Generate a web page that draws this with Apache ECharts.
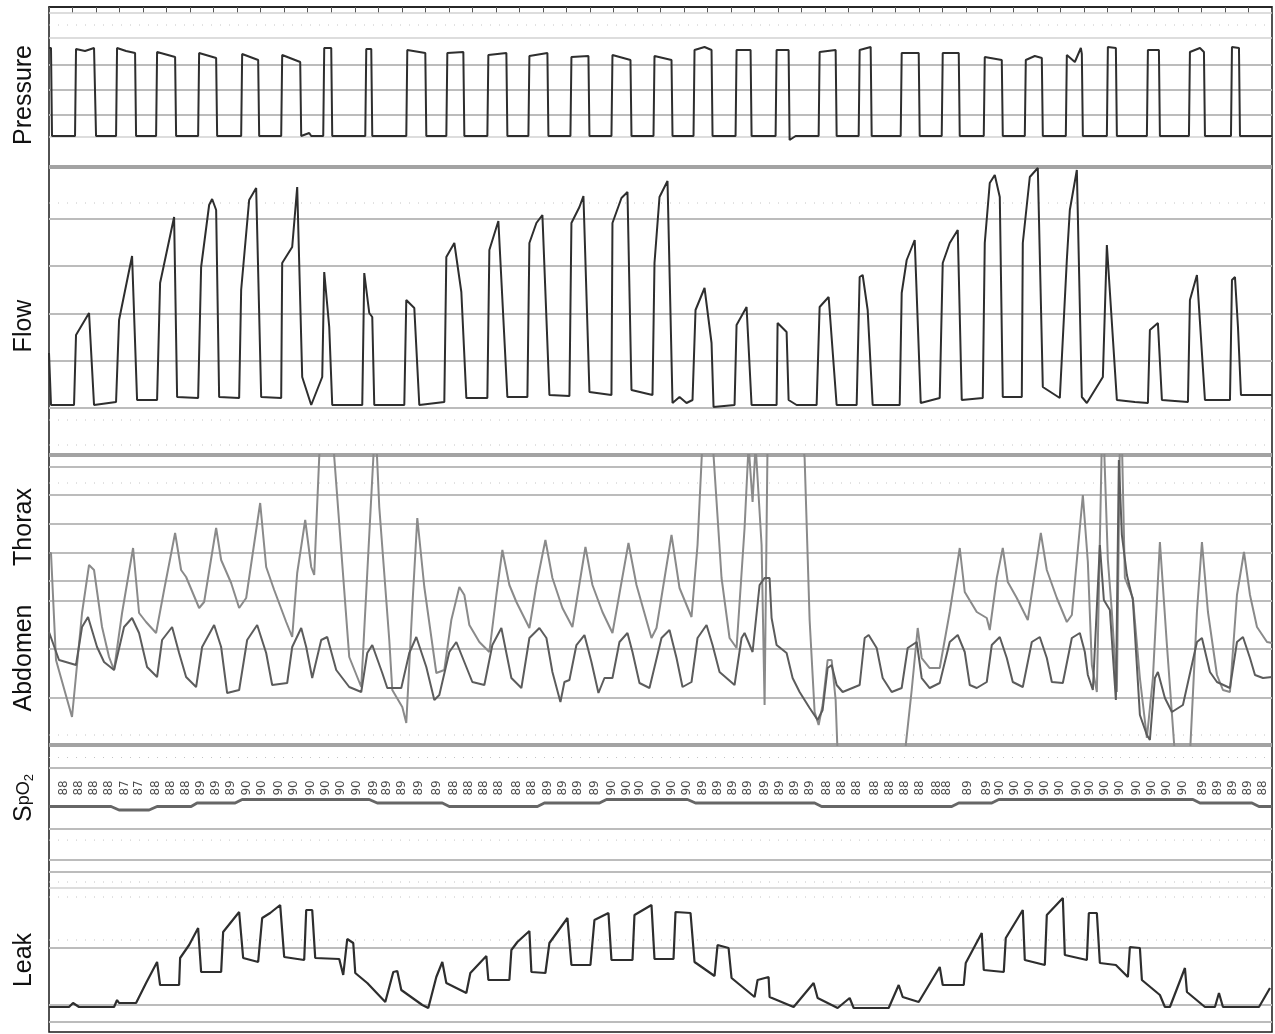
<!DOCTYPE html>
<html>
<head>
<meta charset="utf-8">
<title>Pressure / Flow / Thorax / Abdomen / SpO2 / Leak</title>
<script src="https://cdn.jsdelivr.net/npm/echarts@6/dist/echarts.min.js"></script>
<style>
  html, body { margin: 0; padding: 0; background: #fff; }
  #main { width: 1275px; height: 1034px; }
</style>
</head>
<body>
<div id="main"></div>
<script>
// time runs as sample index 0..tMax over the whole window
var tMax = 1222;

// [t, value] per channel, amplitude in panel units
var pressure = [
  [0,119],[2,119],[3,31],
  [26,31],[27,118],[36,116],[45,119],[47,31],
  [67,31],[68,119],[77,116],[86,114],[87,31],
  [107,31],[108,115],[126,110],[127,31],
  [149,31],[150,114],[167,109],[168,31],
  [192,31],[193,113],[209,107],[210,31],
  [232,31],[233,112],[251,105],[252,31],[260,34],[262,31],
  [274,31],[275,119],[282,119],[283,31],
  [316,31],[317,118],[322,118],[323,31],
  [357,31],[358,117],[376,114],[377,31],
  [397,31],[398,114],[414,115],[415,31],
  [438,31],[439,112],[457,114],[458,31],
  [479,31],[480,111],[498,114],[499,31],
  [521,31],[522,110],[539,111],[540,31],
  [562,31],[563,112],[581,107],[582,31],
  [604,31],[605,111],[622,107],[623,31],
  [644,31],[645,117],[655,120],[662,117],[663,31],
  [686,31],[687,117],[701,117],[702,31],
  [726,31],[727,117],[739,117],[740,27],[746,31],
  [769,31],[770,115],[786,117],[787,31],
  [809,31],[810,117],[821,120],[822,31],
  [851,31],[852,114],[869,114],[870,31],
  [892,31],[893,114],[909,114],[910,31],
  [934,31],[935,110],[952,107],[953,31],
  [975,31],[976,107],[985,111],[992,109],[993,31],
  [1016,31],[1017,112],[1025,105],[1031,119],[1032,113],[1033,31],
  [1057,31],[1058,120],[1066,119],[1067,31],
  [1097,31],[1098,117],[1109,117],[1110,31],
  [1139,31],[1140,115],[1150,119],[1154,115],[1155,31],
  [1181,31],[1182,120],[1189,119],[1190,31],
  [1222,31]
];

var flow = [
  [0,97],[2,45],[25,45],[27,115],[40,137],[45,45],
  [67,48],[70,130],[83,194],[88,50],
  [108,50],[111,167],[125,233],[128,53],
  [149,52],[152,183],[160,245],[163,251],[167,240],[170,53],
  [190,52],[192,160],[200,250],[207,262],[212,53],
  [232,52],[233,187],[243,203],[248,263],[253,73],[262,45],[273,73],[275,178],[280,123],[283,45],
  [313,45],[315,177],[320,137],[323,133],[325,45],
  [355,45],[357,150],[365,142],[370,45],
  [395,48],[397,193],[405,207],[412,158],[417,52],
  [438,52],[440,200],[449,229],[458,53],
  [478,53],[480,207],[487,227],[493,235],[500,55],
  [520,54],[522,227],[530,243],[534,254],[540,58],
  [562,55],[563,227],[572,252],[578,258],[582,60],
  [603,55],[605,187],[610,253],[618,269],[623,47],
  [630,53],[637,47],[643,50],
  [646,140],[655,162],[662,107],[664,43],
  [685,45],[687,125],[697,143],[702,45],
  [727,45],[728,127],[737,118],[739,50],[747,45],
  [767,45],[770,143],[779,153],[787,45],
  [807,45],[810,173],[813,175],[818,140],[823,45],
  [850,45],[852,157],[857,190],[865,210],[871,47],
  [890,52],[893,187],[900,207],[908,220],[912,50],
  [933,52],[935,207],[940,267],[945,275],[950,253],[953,53],
  [972,53],[973,207],[980,273],[988,282],[993,63],[1010,52],
  [1017,190],[1020,240],[1027,280],[1032,53],
  [1037,47],[1053,73],[1057,205],[1067,50],[1085,48],
  [1098,47],[1100,120],[1108,127],[1112,50],
  [1138,48],[1140,150],[1147,175],[1155,50],
  [1180,50],[1182,170],[1185,173],[1188,123],[1191,55],
  [1220,55],[1222,55]
];

var thorax = [
  [0,188],[2,188],[7,81],[23,24],[33,128],[40,176],[45,171],[53,114],[60,84],[65,71],
  [73,128],[84,193],[90,128],[97,119],[107,108],[115,151],[126,208],[132,171],[137,164],
  [150,133],[155,139],[167,213],[172,181],[182,158],[190,133],[197,143],[211,238],[217,174],
  [225,151],[237,119],[243,104],[248,168],[256,221],[262,174],[265,166],[270,284],[272,311],
  [283,311],[285,284],[300,84],[312,54],[318,168],[325,301],[327,301],[330,234],[340,101],
  [343,51],[353,34],[357,18],[363,134],[368,223],[375,154],[387,68],[395,71],[402,121],
  [410,154],[415,146],[420,116],[430,99],[440,89],[447,146],[453,191],[460,156],[467,139],
  [480,113],[487,156],[496,201],[503,163],[513,133],[523,114],[536,194],[543,156],[553,129],
  [563,108],[579,198],[587,156],[602,103],[607,113],[622,206],[630,153],[642,124],[648,196],
  [653,301],[663,301],[672,163],[680,103],[687,93],[695,213],[699,296],[703,239],[706,296],
  [712,196],[715,36],[718,301],[753,301],[755,283],[760,121],[765,29],[769,16],[773,36],
  [778,81],[782,81],[786,41],[788,-14],[855,-14],[862,51],[868,113],[872,83],[880,73],
  [890,73],[900,129],[910,193],[915,149],[927,129],[937,123],[940,111],[947,163],[953,193],
  [958,159],[967,143],[978,121],[991,208],[997,171],[1007,143],[1017,119],[1022,126],
  [1033,246],[1038,179],[1042,76],[1047,49],[1052,301],[1054,301],[1058,181],[1062,129],
  [1067,49],[1070,301],[1072,301],[1075,163],[1083,143],[1090,63],[1097,3],[1103,63],
  [1110,199],[1117,96],[1125,-14],[1140,-14],[1147,129],[1152,199],[1158,129],[1167,66],
  [1173,51],[1180,49],[1187,146],[1194,189],[1200,146],[1207,114],[1217,99],[1222,98]
];

var abdomen = [
  [0,109],[10,81],[27,76],[33,114],[39,124],[48,94],[55,79],[65,71],[75,114],[83,123],
  [90,108],[98,74],[108,64],[113,101],[123,114],[130,88],[137,64],[147,54],[153,94],
  [165,116],[172,94],[178,48],[190,51],[198,101],[208,116],[217,88],[223,56],[238,58],
  [243,94],[252,113],[257,94],[263,63],[272,101],[278,104],[287,71],[300,54],[312,49],
  [318,88],[323,96],[333,68],[338,53],[352,53],[360,88],[367,104],[377,74],[385,41],
  [390,46],[400,89],[407,99],[415,79],[423,59],[435,56],[443,96],[452,113],[458,83],
  [462,63],[472,53],[480,103],[490,113],[497,103],[503,69],[511,39],[515,59],[520,61],
  [527,96],[535,106],[542,79],[549,48],[555,63],[563,63],[570,99],[578,108],[583,89],
  [590,58],[600,53],[612,103],[620,111],[627,83],[633,54],[642,59],[648,103],[657,116],
  [663,96],[670,69],[685,56],[692,103],[695,108],[703,89],[710,156],[715,163],[720,163],
  [722,123],[727,96],[737,88],[743,63],[750,49],[760,33],[768,21],[773,31],[778,73],
  [782,76],[787,56],[793,49],[810,56],[815,103],[819,106],[827,93],[833,63],[842,49],
  [852,53],[858,93],[867,99],[872,63],[880,53],[890,58],[900,99],[908,106],[915,89],
  [920,56],[927,53],[937,59],[942,96],[950,104],[957,83],[963,59],[973,54],[982,99],
  [990,104],[997,83],[1002,59],[1013,58],[1022,103],[1030,108],[1035,89],[1038,66],
  [1043,51],[1050,196],[1054,141],[1060,131],[1066,41],[1069,281],[1072,206],[1077,166],
  [1083,141],[1090,26],[1097,6],[1100,1],[1105,63],[1108,69],[1115,43],[1122,29],
  [1133,36],[1147,99],[1152,103],[1160,69],[1167,59],[1180,53],[1187,99],[1193,104],
  [1200,83],[1205,66],[1213,63],[1222,64]
];

// SpO2 trace in %, and the printed readings
var spo2Trace = [
  [0,88],[62,88],[70,87],[100,87],[108,88],[142,88],[148,89],[186,89],[193,90],[320,90],
  [328,89],[393,89],[400,88],[488,88],[495,89],[550,89],[557,90],[638,90],[646,89],[765,89],
  [772,88],[902,88],[909,89],[942,89],[949,90],[1143,90],[1150,89],[1202,89],[1209,88],[1222,88]
];
var spo2Times = [15,30,45,60,76,90,107,122,137,152,167,182,198,213,230,245,262,277,292,308,
  325,338,353,370,388,405,420,435,450,467,482,498,513,528,545,562,577,590,607,622,
  637,653,668,683,698,715,730,745,760,777,792,807,825,840,855,870,887,897,918,937,
  950,965,980,995,1010,1027,1040,1055,1070,1087,1102,1117,1133,1153,1168,1183,1198,1213];
var spo2Values = [88,88,88,88,87,87,88,88,88,89,89,89,90,90,90,90,90,90,90,90,
  89,89,89,89,89,88,88,88,88,88,88,89,89,89,89,90,90,90,90,90,
  90,89,89,89,89,89,89,89,89,88,88,88,88,88,88,88,88,88,89,89,
  90,90,90,90,90,90,90,90,90,90,90,90,90,89,89,89,89,88];

var leak = [
  [0,25],[20,25],[24,29],[30,25],[65,25],[68,32],[70,29],[87,29],[97,49],[108,70],
  [111,47],[130,47],[131,74],[140,87],[149,104],[152,60],[172,60],[174,100],[190,120],
  [194,74],[209,70],[213,114],[221,119],[231,127],[235,75],[255,72],[257,122],[263,122],
  [266,74],[290,73],[294,57],[298,93],[304,89],[306,59],[318,49],[336,30],[344,60],
  [348,61],[352,42],[373,27],[379,24],[387,55],[393,70],[397,49],[417,39],[421,59],
  [437,76],[439,52],[460,52],[462,82],[468,90],[480,101],[482,60],[496,59],[500,89],
  [518,114],[522,67],[541,67],[545,112],[559,119],[562,72],[583,72],[585,117],[602,127],
  [605,73],[624,73],[626,120],[641,119],[645,70],[665,56],[668,87],[679,84],[682,54],
  [705,35],[708,52],[719,55],[720,35],[744,25],[764,49],[768,34],[788,24],[800,34],
  [804,24],[839,24],[849,47],[853,35],[869,30],[890,65],[893,47],[914,47],[916,69],
  [932,99],[934,62],[954,60],[956,94],[973,122],[975,72],[995,67],[997,117],[1013,134],
  [1015,77],[1037,72],[1039,119],[1047,119],[1050,69],[1066,67],[1078,55],[1080,85],
  [1090,84],[1092,52],[1110,37],[1115,25],[1120,25],[1135,64],[1137,40],[1155,25],
  [1165,25],[1169,39],[1173,25],[1209,25],[1220,44]
];

// reference levels per panel (panel units)
var pressureSolid = [102, 77, 52];
var pressureLight = [129, 154, 30];
var pressureDotted = [142];
var flowSolid = [231, 184, 136, 89, 42];
var flowDotted = [247, 30, 5];
var chestSolid = [274, 246, 217, 188, 160, 140, 92, 43];
var chestDotted = [258, 6];
var spo2Solid = [99, 81.6];
var spo2Dotted = [102, 78.4];
var leakSolid = [172, 160, 84, 27, 10];
var leakLight = [144];
var leakDotted = [150, 135, 92];
var bands = [[0, 0], [1, 283], [2, 286], [2, -4]];

var bandStyle = { color: '#a3a3a3', width: 4 };
var solidStyle = { color: '#bcbcbc', width: 2 };
var lightStyle = { color: '#d2d2d2', width: 1.5 };
var dottedStyle = { color: '#c4c4c4', width: 1, type: [1, 8] };

function levels(gi, values, style) {
  return values.map(function (v) {
    return {
      type: 'line', xAxisIndex: gi, yAxisIndex: gi, silent: true, z: 1,
      symbol: 'none', clip: false, lineStyle: style,
      data: [[0, v], [tMax, v]]
    };
  });
}

function trace(gi, data, color, width) {
  return {
    type: 'line', xAxisIndex: gi, yAxisIndex: gi, z: 3,
    symbol: 'none', clip: true, data: data,
    lineStyle: { color: color, width: width }
  };
}

var series = [];
bands.forEach(function (b) { series = series.concat(levels(b[0], [b[1]], bandStyle)); });
series = series.concat(
  levels(0, pressureSolid, solidStyle), levels(0, pressureLight, lightStyle), levels(0, pressureDotted, dottedStyle),
  levels(1, flowSolid, solidStyle), levels(1, flowDotted, dottedStyle),
  levels(2, chestSolid, solidStyle), levels(2, chestDotted, dottedStyle),
  levels(3, spo2Solid, solidStyle), levels(3, spo2Dotted, dottedStyle),
  levels(4, leakSolid, solidStyle), levels(4, leakLight, lightStyle), levels(4, leakDotted, dottedStyle)
);
series.push(trace(0, pressure, '#2e2e2e', 2));
series.push(trace(1, flow, '#2e2e2e', 2));
series.push(trace(2, thorax, '#8a8a8a', 2));
series.push(trace(2, abdomen, '#5c5c5c', 2));
series.push(trace(3, spo2Trace, '#666', 3));
series.push(trace(4, leak, '#2e2e2e', 2.2));

// printed SpO2 readings sit on one row above the trace
var labelLevel = 93.3;
series.push({
  type: 'scatter', xAxisIndex: 3, yAxisIndex: 3, z: 4, silent: true,
  symbolSize: 1, itemStyle: { color: 'rgba(0,0,0,0)' },
  data: spo2Times.map(function (t, i) { return [t, labelLevel, spo2Values[i]]; }),
  label: {
    show: true, position: 'inside', rotate: 90,
    formatter: function (p) { return p.data[2]; },
    fontSize: 12, fontFamily: 'DejaVu Sans', color: '#1a1a1a'
  }
});

var yRanges = [[0, 160], [0, 283], [-4, 286], [75, 105], [0, 182], [0, 1]];
var gridBoxes = [
  { top: 7, height: 160 },
  { top: 167, height: 283 },
  { top: 455, height: 290 },
  { top: 747, height: 105 },
  { top: 850, height: 182 }
];

var grids = gridBoxes.map(function (g) {
  return { left: 49, right: 3, top: g.top, height: g.height };
});
grids.push({ left: 49, right: 3, top: 7, bottom: 2, show: true,
  borderColor: '#1a1a1a', borderWidth: 1.5, backgroundColor: 'transparent' });

var xAxes = yRanges.map(function (r, i) {
  if (i === 0) {
    return {
      type: 'value', gridIndex: 0, min: 0, max: tMax, interval: 23.5, position: 'top',
      axisLine: { show: true, onZero: false, lineStyle: { color: '#1a1a1a', width: 1.5 } },
      axisTick: { show: true, inside: true, length: 6, lineStyle: { color: '#555', width: 1 } },
      axisLabel: { show: false }, splitLine: { show: false }
    };
  }
  return { type: 'value', gridIndex: i, min: 0, max: tMax, show: false };
});
var yAxes = yRanges.map(function (r, i) {
  return { type: 'value', gridIndex: i, min: r[0], max: r[1], show: false };
});

var labelFont = '25px "Liberation Sans", Arial, sans-serif';
function sideLabel(text, y) {
  return {
    type: 'text', x: 24, y: y, rotation: Math.PI / 2,
    style: { text: text, fill: '#111', font: labelFont, align: 'center', verticalAlign: 'middle',
      textAlign: 'center', textVerticalAlign: 'middle' }
  };
}

var option = {
  animation: false,
  backgroundColor: '#fff',
  grid: grids,
  xAxis: xAxes,
  yAxis: yAxes,
  series: series,
  graphic: [
    sideLabel('Pressure', 95),
    sideLabel('Flow', 326),
    sideLabel('Thorax', 527),
    sideLabel('Abdomen', 658),
    sideLabel('Leak', 960),
    {
      type: 'text', x: 24, y: 798, rotation: Math.PI / 2,
      style: {
        text: '{s|S}{p|pO}{n|2}', fill: '#111', align: 'center', verticalAlign: 'middle',
        textAlign: 'center', textVerticalAlign: 'middle',
        rich: {
          s: { fontSize: 25, fontFamily: 'Liberation Sans', fill: '#111' },
          p: { fontSize: 18, fontFamily: 'Liberation Sans', fill: '#111' },
          n: { fontSize: 13, fontFamily: 'Liberation Sans', fill: '#111', padding: [10, 0, 0, 0] }
        }
      }
    }
  ]
};

var myChart = echarts.init(document.getElementById('main'));
myChart.setOption(option);
</script>
</body>
</html>
